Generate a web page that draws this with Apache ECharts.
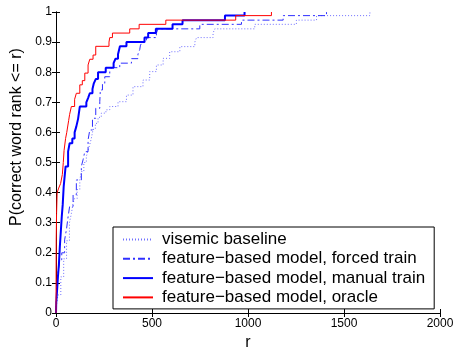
<!DOCTYPE html>
<html>
<head>
<meta charset="utf-8">
<script src="https://cdn.jsdelivr.net/npm/echarts@6/dist/echarts.min.js"></script>
<style>
  html, body { margin: 0; padding: 0; background: #fff; }
  #chart { width: 456px; height: 347px; }
</style>
</head>
<body>
<div id="chart"></div>
<script>
// legend names
const seriesNames = [
  'visemic baseline',
  'feature\u2212based model, forced train',
  'feature\u2212based model, manual train',
  'feature\u2212based model, oracle'
];

// step points (rank r, cumulative probability)
const rVisemic = [0, 1, 10, 25, 40, 55, 70, 80, 89, 97, 110, 124, 132, 145, 158, 167, 176, 184, 193, 205,
  219, 236, 260, 280, 323, 367, 401, 453, 488, 523, 558, 592, 645, 723, 732, 818, 827, 1035, 1252, 1357, 1635];
const pVisemic = [0, 0.02, 0.06, 0.12, 0.18, 0.24, 0.30, 0.33, 0.365, 0.38, 0.41, 0.442, 0.47, 0.50, 0.52, 0.54, 0.56, 0.58, 0.61, 0.63,
  0.65, 0.664, 0.675, 0.686, 0.702, 0.724, 0.752, 0.774, 0.802, 0.824, 0.846, 0.868, 0.885, 0.90, 0.915, 0.93, 0.944, 0.959, 0.973, 0.988, 1.0];

const rForced = [0, 1, 5, 12, 19, 30, 45, 55, 63, 71, 89, 106, 132, 141, 150, 167, 176, 190, 207, 228,
  231, 242, 254, 280, 289, 332, 393, 427, 436, 440, 450, 471, 523, 531, 749, 966, 1183, 1409];
const pForced = [0, 0.03, 0.1, 0.14, 0.177, 0.2, 0.243, 0.28, 0.32, 0.354, 0.393, 0.442, 0.487, 0.509, 0.536, 0.575, 0.608, 0.647, 0.68, 0.702,
  0.741, 0.763, 0.785, 0.802, 0.815, 0.83, 0.845, 0.86, 0.875, 0.89, 0.90, 0.915, 0.93, 0.944, 0.959, 0.973, 0.988, 1.0];

const rManual = [0, 1, 5, 10, 15, 20, 25, 30, 35, 40, 50, 63, 71, 85, 97, 106, 115, 124, 158, 167,
  176, 190, 197, 207, 219, 259, 300, 310, 323, 333, 367, 461, 480, 520, 607, 659, 880, 982];
const pManual = [0, 0.03, 0.07, 0.12, 0.16, 0.22, 0.27, 0.32, 0.36, 0.42, 0.487, 0.536, 0.564, 0.58, 0.60, 0.62, 0.645, 0.686, 0.70, 0.714,
  0.73, 0.744, 0.763, 0.777, 0.80, 0.815, 0.83, 0.845, 0.86, 0.886, 0.90, 0.915, 0.93, 0.944, 0.959, 0.973, 0.988, 1.0];

const rOracle = [0, 1, 3, 6, 14, 24, 33, 38, 42, 50, 56, 66, 71, 80, 97, 106, 124, 137, 150, 167,
  176, 193, 207, 276, 280, 294, 384, 433, 572, 936, 1122];
const pOracle = [0, 0.24, 0.33, 0.40, 0.415, 0.43, 0.46, 0.50, 0.54, 0.58, 0.60, 0.64, 0.66, 0.686, 0.71, 0.73, 0.758, 0.772, 0.797, 0.824,
  0.843, 0.857, 0.886, 0.90, 0.915, 0.93, 0.944, 0.959, 0.973, 0.988, 1.0];

const pairs = (r, p) => r.map((v, i) => [v, p[i]]);

const font = 'Liberation Sans, Arial, Helvetica, sans-serif';

const tickStyle = { show: true, inside: true, length: 4, lineStyle: { color: '#000' } };
const lineStyle = { lineStyle: { color: '#000', width: 1 } };

const chart = echarts.init(document.getElementById('chart'));

chart.setOption({
  animation: false,
  backgroundColor: '#fff',
  textStyle: { fontFamily: font },
  grid: { left: 56, right: 16, top: 12, bottom: 34, containLabel: false, outerBoundsMode: 'none' },
  legend: {
    data: seriesNames,
    orient: 'vertical',
    left: 113,
    top: 227,
    padding: [4, 9, 3, 9],
    itemGap: 2.3,
    itemWidth: 30,
    itemHeight: 14,
    itemStyle: { opacity: 0 },
    backgroundColor: '#fff',
    borderColor: '#000',
    borderWidth: 1,
    textStyle: { fontFamily: font, fontSize: 17, color: '#000', lineHeight: 17, padding: [0, 0, 0, 4] }
  },
  xAxis: [
    {
      type: 'value', min: 0, max: 2000, interval: 500,
      name: 'r', nameLocation: 'middle', nameGap: 10,
      nameTextStyle: { fontSize: 16, color: '#000', fontFamily: font },
      axisLine: lineStyle, axisTick: tickStyle,
      axisLabel: { color: '#000', fontSize: 12, margin: 5, fontFamily: font, formatter: v => String(v) },
      splitLine: { show: false }
    },
    {
      type: 'value', position: 'top', min: 0, max: 2000, interval: 500,
      axisLine: lineStyle, axisTick: tickStyle,
      axisLabel: { show: false }, splitLine: { show: false }
    }
  ],
  yAxis: [
    {
      type: 'value', min: 0, max: 1, interval: 0.1,
      axisLine: lineStyle, axisTick: tickStyle,
      axisLabel: { color: '#000', fontSize: 12, margin: 4, fontFamily: font },
      splitLine: { show: false }
    },
    {
      type: 'value', position: 'right', min: 0, max: 1, interval: 0.1,
      axisLine: lineStyle, axisTick: tickStyle,
      axisLabel: { show: false }, splitLine: { show: false }
    }
  ],
  graphic: [
    {
      type: 'text',
      x: 17, y: 137, rotation: Math.PI / 2,
      style: {
        text: 'P(correct word rank <= r)',
        font: '16px ' + font,
        fill: '#000',
        align: 'center',
        verticalAlign: 'middle'
      }
    }
  ],
  series: [
    {
      name: seriesNames[0], type: 'line', step: 'end', symbol: 'none',
      data: pairs(rVisemic, pVisemic),
      lineStyle: { color: '#7070ff', width: 1, type: [1, 2] },
      itemStyle: { color: '#7070ff' }
    },
    {
      name: seriesNames[1], type: 'line', step: 'end', symbol: 'none',
      data: pairs(rForced, pForced),
      lineStyle: { color: '#3030ff', width: 1, type: [7, 3, 2, 3] },
      itemStyle: { color: '#3030ff' }
    },
    {
      name: seriesNames[2], type: 'line', step: 'end', symbol: 'none',
      data: pairs(rManual, pManual),
      lineStyle: { color: '#0000ff', width: 2 },
      itemStyle: { color: '#0000ff' }
    },
    {
      name: seriesNames[3], type: 'line', step: 'end', symbol: 'none',
      data: pairs(rOracle, pOracle),
      lineStyle: { color: '#ff0000', width: 1 },
      itemStyle: { color: '#ff0000' }
    }
  ]
});
</script>
</body>
</html>
